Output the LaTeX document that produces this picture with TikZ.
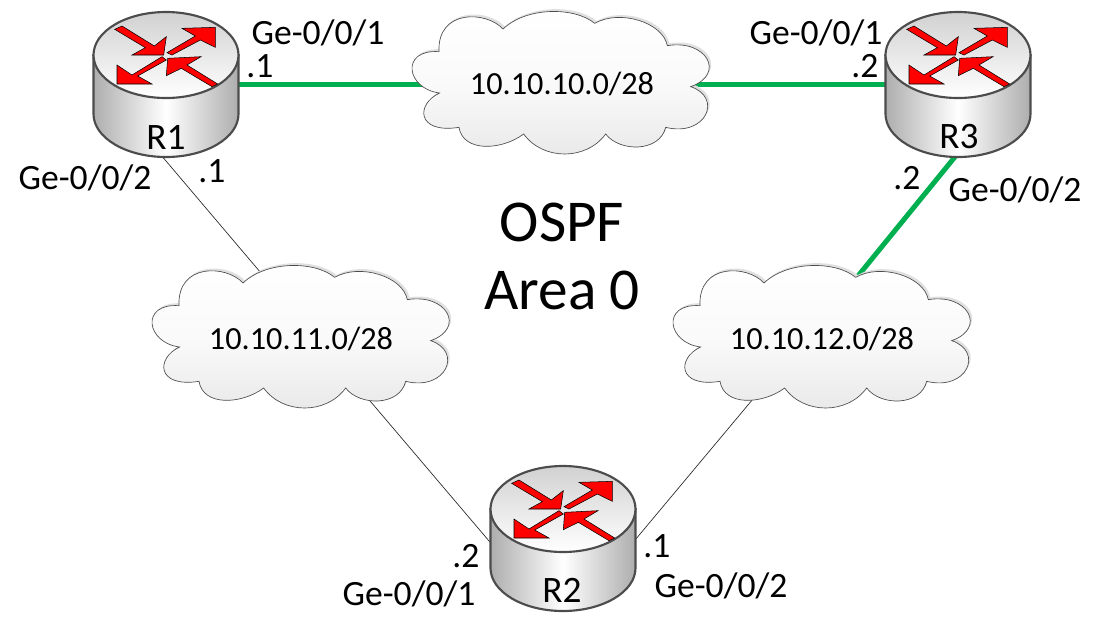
\documentclass[tikz,border=0pt]{standalone}
\usepackage{fontspec}
\setmainfont{Carlito}
\usetikzlibrary{positioning}

% cloud outline, in thirds of a pixel around the centre
\newcommand{\cloudpath}{(-370,-27) .. controls (-442,-60) and (-440,-150) .. (-312,-130)
  .. controls (-300,-205) and (-185,-200) .. (-118,-150)
  .. controls (-60,-230) and (70,-230) .. (128,-150)
  .. controls (170,-205) and (290,-205) .. (308,-130)
  .. controls (430,-160) and (480,-40) .. (383,-8)
  .. controls (490,30) and (430,135) .. (313,115)
  .. controls (300,185) and (170,225) .. (95,182)
  .. controls (35,232) and (-110,232) .. (-180,165)
  .. controls (-230,220) and (-378,225) .. (-372,97)
  .. controls (-490,105) and (-470,-15) .. (-370,-27) -- cycle}

\begin{document}
\begin{tikzpicture}[
    x=0.75pt, y=-0.75pt,
    every node/.style={inner sep=0pt},
    port text/.style={font=\fontsize{26.7}{30}\selectfont},
    net text/.style={font=\fontsize{24.2}{28}\selectfont},
    name text/.style={font=\fontsize{28}{32}\selectfont},
    title text/.style={font=\fontsize{44.5}{48}\selectfont},
    % links
    fast link/.style={line width=3.75pt, draw={rgb,255:red,0;green,176;blue,80}},
    slow link/.style={line width=0.5pt, draw=black!85},
    router spot/.style={minimum width=105pt, minimum height=105pt},
    net spot/.style={minimum width=170pt, minimum height=80pt},
    rt arrow/.style={fill=red, draw=black, line width=0.4pt, line join=miter},
    cloud/.pic={
      \begin{scope}[x=0.25pt, y=0.25pt]
        \fill[black!12, shift={(6,7)}] \cloudpath;
        \shade[top color=white, bottom color=black!9, middle color=white!98!black, draw=black!70, line width=0.5pt] \cloudpath;
      \end{scope}
    },
    router/.pic={
      % side of the cylinder, then the lid
      \shade[left color=black!32, right color=black!32, middle color=white, draw=black!70, line width=1.6pt]
        (-72.5,0) -- (-72.5,59) arc[start angle=180, end angle=0, x radius=72.5, y radius=43] -- (72.5,0) -- cycle;
      \shade[top color=black!18, bottom color=white, draw=black!70, line width=1.6pt]
        (0,0) ellipse[x radius=72.5, y radius=43];
      \begin{scope}[x=0.25pt, y=-0.25pt, shift={(-257,-135)}]
        \path[rt arrow] (103,58) -- (125,48) -- (222,108) -- (258,80) -- (250,135) -- (155,135) -- (195,113) -- cycle;
        \path[rt arrow] (260,128) -- (345,78) -- (305,55) -- (405,52) -- (405,112) -- (360,90) -- (275,135) -- cycle;
        \path[rt arrow] (245,140) -- (155,195) -- (110,165) -- (110,222) -- (215,222) -- (172,198) -- (258,150) -- cycle;
        \path[rt arrow] (412,222) -- (395,230) -- (303,175) -- (258,197) -- (262,145) -- (362,140) -- (320,165) -- cycle;
      \end{scope}
    }
]
    \useasboundingbox (0,0) rectangle (1101,633);

    % anchors for the pictures
    \node[router spot] (r1) at (166,84) {};
    \node[router spot] (r2) at (563,538) {};
    \node[router spot] (r3) at (958,84) {};
    \node[net spot] (net1) at (563,84) {};
    \node[net spot] (net2) at (303,338) {};
    \node[net spot] (net3) at (824,338) {};

    % free ends hidden behind the shapes
    \coordinate (r1 low) at (155,148);
    \coordinate (net2 up) at (272,286);
    \coordinate (net2 low) at (365,395);
    \coordinate (r2 left) at (495,548);
    \coordinate (r2 right) at (625,552);
    \coordinate (net3 low) at (758,393);
    \coordinate (net3 up) at (849,287);
    \coordinate (r3 low) at (963,147);

    % links
    \draw[fast link] (r1) -- (net1);
    \draw[fast link] (net1) -- (r3);
    \draw[fast link] (r3 low) -- (net3 up);
    \draw[slow link] (r1 low) -- (net2 up);
    \draw[slow link] (net2 low) -- (r2 left);
    \draw[slow link] (r2 right) -- (net3 low);

    % shapes
    \pic at (net1) {cloud};
    \pic at (net2) {cloud};
    \pic at (net3) {cloud};
    \pic at (166,55) {router};
    \pic at (563,509) {router};
    \pic at (958,55) {router};

    % router names
    \node[name text] (r1 name) at (166,137) {R1};
    \node[name text] (r2 name) at (562,590) {R2};
    \node[name text] (r3 name) at (959,137) {R3};

    % networks
    \node[net text] (net1 text) at (562,84) {10.10.10.0/28};
    \node[net text] (net2 text) at (301,339) {10.10.11.0/28};
    \node[net text] (net3 text) at (822,339) {10.10.12.0/28};

    % centre title
    \node[title text] (ospf) at (562,222) {OSPF};
    \node[title text] (area) at (562,290) {Area 0};

    % ports
    \node[port text] (p1) at (318,33) {Ge-0/0/1};
    \node[port text] (p2) at (260,66) {.1};
    \node[port text] (p3) at (85,178) {Ge-0/0/2};
    \node[port text] (p4) at (212,171) {.1};
    \node[port text] (p5) at (816,33) {Ge-0/0/1};
    \node[port text] (p6) at (865,66) {.2};
    \node[port text] (p7) at (907,178) {.2};
    \node[port text] (p8) at (1015,190) {Ge-0/0/2};
    \node[port text] (p9) at (466,556) {.2};
    \node[port text] (p10) at (409,594) {Ge-0/0/1};
    \node[port text] (p11) at (657,546) {.1};
    \node[port text] (p12) at (721,586) {Ge-0/0/2};
\end{tikzpicture}
\end{document}
